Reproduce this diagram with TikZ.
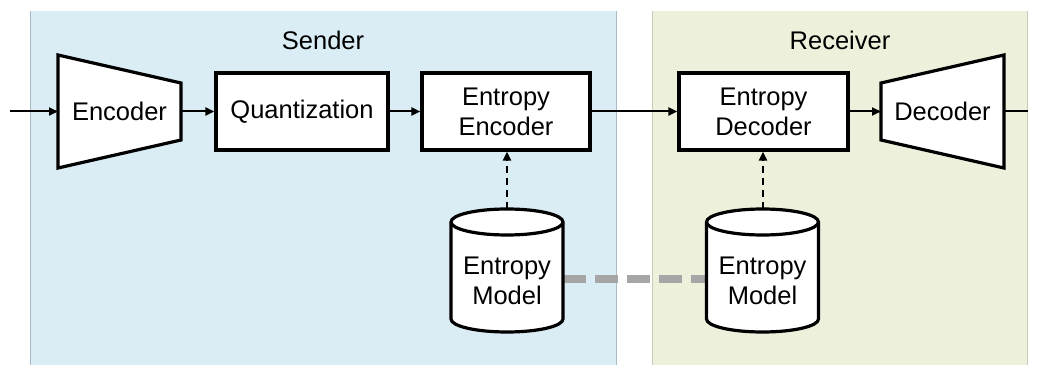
\documentclass[tikz,border=0pt]{standalone}
\usepackage{fontspec}
\setmainfont{Liberation Sans}
\usetikzlibrary{arrows.meta}
\definecolor{sendbg}{HTML}{DAEDF4}
\definecolor{sendln}{HTML}{A8BAC4}
\definecolor{recvbg}{HTML}{EDF1DC}
\definecolor{recvln}{HTML}{C9CDB8}
\definecolor{linkgray}{HTML}{A6A6A6}
\tikzset{
  lbl/.style={font=\fontsize{25.5}{30}\selectfont, align=center, inner sep=0pt},
  blockbox/.style={draw=black, line width=3.2pt, fill=white},
  flow/.style={line width=2pt, -{Triangle[length=9pt,width=8pt]}},
  modelflow/.style={line width=2pt, dash pattern=on 7pt off 5pt, -{Triangle[length=9pt,width=8pt]}},
  sync/.style={line width=8pt, draw=linkgray, dash pattern=on 23pt off 9pt},
}
\begin{document}
\begin{tikzpicture}[x=1pt,y=1pt]
\useasboundingbox (0,0) rectangle (1037,365);
\fill[white] (0,0) rectangle (1037,365);
% panels
\fill[sendbg] (30,0) rectangle (617,354);
\draw[sendln, line width=1pt] (30.5,0) -- (30.5,354) (616.5,0) -- (616.5,354);
\fill[recvbg] (652,0) rectangle (1028,354);
\draw[recvln, line width=1pt] (652.5,0) -- (652.5,354) (1027.5,0) -- (1027.5,354);
\node[lbl] (sender) at (323,325) {Sender};
\node[lbl] (receiver) at (840,325) {Receiver};
% encoder trapezoid
\draw[blockbox, line join=miter] (58,310) -- (181,282) -- (181,225) -- (58,197) -- cycle;
\coordinate (enc-w) at (58,253.5);
\coordinate (enc-e) at (181,253.5);
\node[lbl] (enc) at (119.5,253.5) {Encoder};
% boxes
\node[blockbox, lbl, minimum width=172pt, minimum height=77pt] (quant) at (302,253.5) {Quantization};
\node[blockbox, lbl, minimum width=168pt, minimum height=77pt] (entenc) at (506,253.5) {Entropy\\Encoder};
\node[blockbox, lbl, minimum width=169pt, minimum height=77pt] (entdec) at (763.5,253.5) {Entropy\\Decoder};
% decoder trapezoid
\draw[blockbox, line join=miter] (881,282) -- (1004,310) -- (1004,197) -- (881,225) -- cycle;
\coordinate (dec-w) at (881,253.5);
\coordinate (dec-e) at (1004,253.5);
\node[lbl] (dec) at (942.5,253.5) {Decoder};
% input / output
\coordinate (in) at (10,253.5);
\coordinate (out) at (1028,253.5);
% sync line between models
\coordinate (cylL-e) at (563,86);
\coordinate (cylR-w) at (707,86);
\draw[sync] (cylL-e) -- (cylR-w);
% cylinders
\foreach \cx in {507, 762.5}{
  \draw[line width=3.2pt, fill=white]
    (\cx-56,143) -- (\cx-56,46)
    arc[start angle=180, end angle=360, x radius=56pt, y radius=13pt]
    -- (\cx+56,143)
    arc[start angle=0, end angle=180, x radius=56pt, y radius=13pt] -- cycle;
  \draw[line width=3.2pt] (\cx-56,143) arc[start angle=180, end angle=360, x radius=56pt, y radius=13pt];
}
\coordinate (cylL-n) at (507,156);
\coordinate (cylR-n) at (763,156);
\node[lbl] (modelL) at (507,84) {Entropy\\Model};
\node[lbl] (modelR) at (762.5,84) {Entropy\\Model};
% connectors
\draw[flow] (in) -- (enc-w);
\draw[flow] (enc-e) -- (quant.west);
\draw[flow] (quant.east) -- (entenc.west);
\draw[flow] (entenc.east) -- (entdec.west);
\draw[flow] (entdec.east) -- (dec-w);
\draw[line width=2pt] (dec-e) -- (out);
\draw[modelflow] (cylL-n) -- (cylL-n |- entenc.south);
\draw[modelflow] (cylR-n) -- (cylR-n |- entdec.south);
\end{tikzpicture}
\end{document}
